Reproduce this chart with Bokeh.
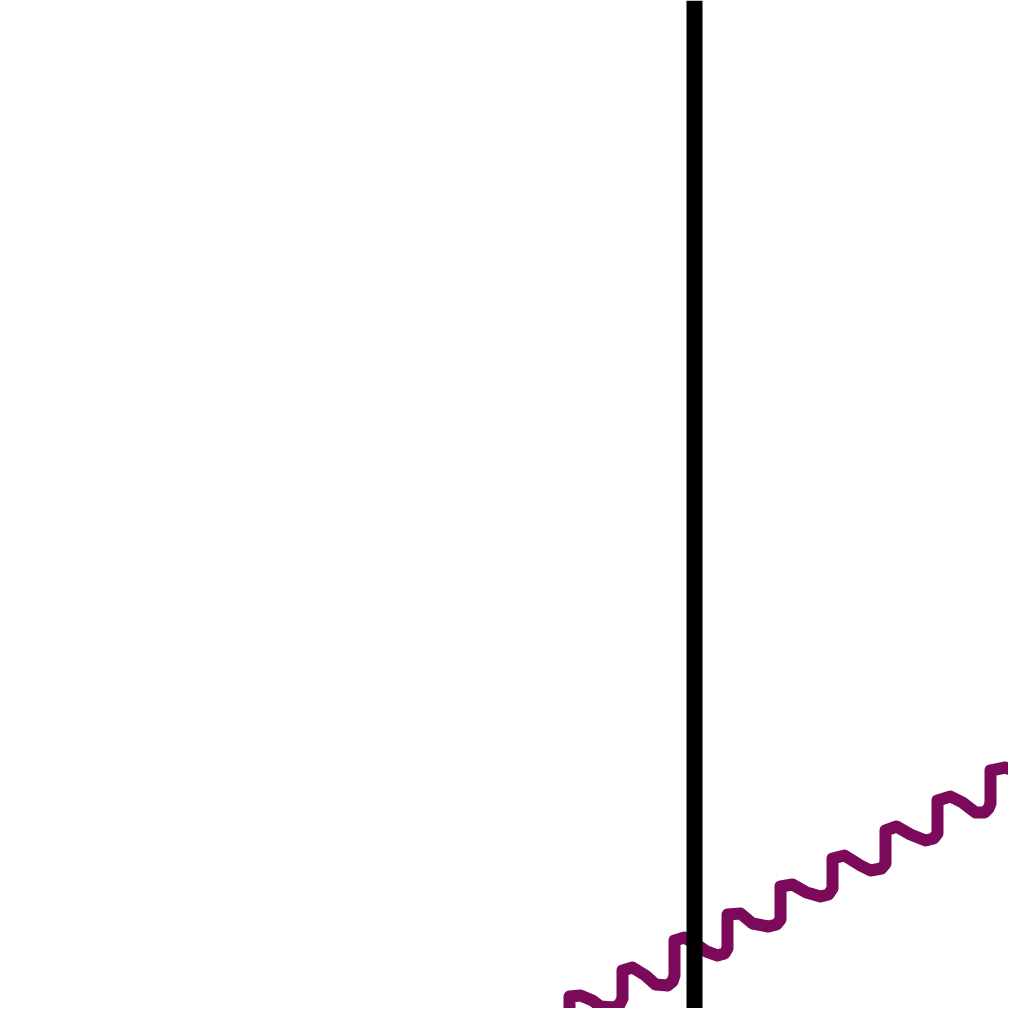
from bokeh.plotting import figure
from bokeh.models import Range1d, Span
from bokeh.embed import file_html
from bokeh.resources import INLINE

# Series (x: horizontal position, y: vertical position, downward)
series_x = [516, 530, 545, 560, 566, 569, 569, 580, 592, 600, 614, 619, 622, 622, 632, 645,
            655, 667, 672, 674, 674, 684, 696, 706, 717, 724, 727, 727, 740, 752, 768, 776,
            780, 780, 792, 806, 820, 828, 832, 832, 844, 860, 870, 881, 885, 885, 896, 910,
            925, 933, 937, 937, 950, 962, 975, 984, 988, 990, 990, 1005, 1017, 1030]
series_y = [1018, 1018, 1026, 1032, 1030, 1024, 996, 995, 1000, 1006, 1007, 1004, 998, 970, 967, 975,
            984, 985, 981, 975, 940, 937, 944, 951, 955, 953, 948, 914, 913, 923, 926, 924,
            919, 886, 884, 892, 896, 894, 888, 858, 855, 865, 870, 868, 863, 830, 826, 834,
            840, 838, 833, 800, 796, 802, 812, 812, 808, 803, 770, 767, 772, 786]

marker_x = 694  # vertical reference line position

p = figure(width=1008, height=1008, output_backend="svg", toolbar_location=None,
           x_range=Range1d(0, 1008), y_range=Range1d(1008, 0), min_border=0)
p.axis.visible = False
p.grid.visible = False
p.outline_line_color = None
p.background_fill_color = "white"
p.border_fill_color = "white"

p.line(series_x, series_y, line_color="#7B0A5A", line_width=12, line_join="round")
p.add_layout(Span(location=marker_x, dimension="height", line_color="black", line_width=16))

open("out.html", "w").write(file_html(p, INLINE))
